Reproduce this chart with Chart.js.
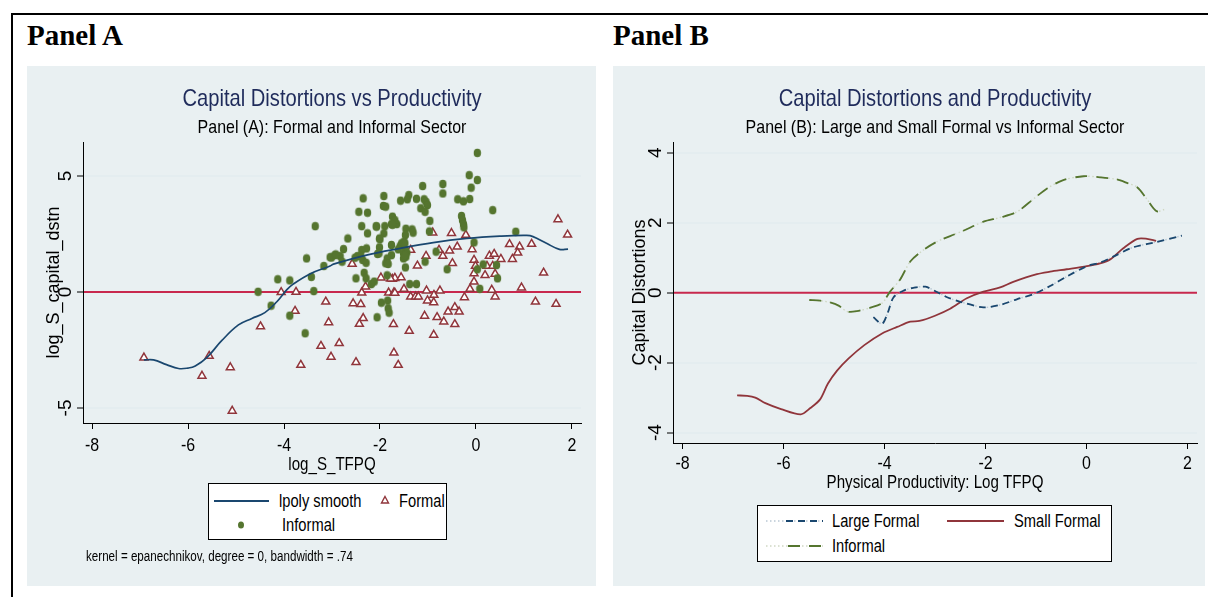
<!DOCTYPE html>
<html><head><meta charset="utf-8">
<script src="https://cdn.jsdelivr.net/npm/chart.js@4.4.1/dist/chart.umd.min.js"></script>
<style>
html,body{margin:0;padding:0;background:#fff;}
body{width:1208px;height:597px;position:relative;overflow:hidden;font-family:'Liberation Sans',Arial,sans-serif;}
.frame{position:absolute;left:11px;top:13px;width:1197px;height:584px;border-top:2px solid #000;border-left:2px solid #000;}
.plabel{position:absolute;top:20px;font-family:'Liberation Serif','Times New Roman',serif;font-weight:bold;font-size:29px;line-height:30px;color:#000;}
.bg{position:absolute;top:66px;height:520px;background:#e9f0f2;}
.bg canvas{position:absolute;left:0;top:0;}
.title{position:absolute;top:85px;width:600px;text-align:center;font-size:24px;line-height:26px;color:#1f2b5b;white-space:nowrap;transform:scaleX(0.84);transform-origin:50% 50%;}
.sub{position:absolute;top:116px;width:600px;text-align:center;font-size:19px;line-height:22px;color:#000;white-space:nowrap;transform:scaleX(0.84);transform-origin:50% 50%;}
.legend{position:absolute;background:#fff;border:1px solid #000;box-sizing:border-box;}
.legend svg{position:absolute;left:0;top:0;}
.lt{position:absolute;font-size:17.5px;line-height:20px;color:#000;white-space:nowrap;transform:scaleX(0.84);transform-origin:0 50%;}
.note{position:absolute;left:86px;top:548px;font-size:14px;line-height:16px;color:#000;white-space:nowrap;transform:scaleX(0.83);transform-origin:0 50%;}
</style>
</head>
<body>
<div class="frame"></div>
<div class="plabel" style="left:27px;">Panel A</div>
<div class="plabel" style="left:613px;">Panel B</div>

<div class="bg" style="left:27px;width:569px;"><canvas id="cA" width="569" height="520"></canvas></div>
<div class="bg" style="left:613px;width:592px;"><canvas id="cB" width="592" height="520"></canvas></div>

<div class="title" style="left:32px;">Capital Distortions vs Productivity</div>
<div class="sub" style="left:32px;">Panel (A): Formal and Informal Sector</div>
<div class="title" style="left:635px;">Capital Distortions and Productivity</div>
<div class="sub" style="left:635px;">Panel (B): Large and Small Formal vs Informal Sector</div>

<div class="legend" style="left:208px;top:483px;width:239px;height:57px;">
  <svg width="239" height="57">
    <line x1="5" y1="17" x2="60" y2="17" stroke="#1a476f" stroke-width="2"/>
    <polygon points="176,12.5 179.5,19 172.5,19" fill="#fff" stroke="#90353b" stroke-width="1.4"/>
    <ellipse cx="32" cy="41" rx="3" ry="3.6" fill="#55752f"/>
  </svg>
  <div class="lt" style="left:70px;top:7px;">lpoly smooth</div>
  <div class="lt" style="left:190px;top:7px;">Formal</div>
  <div class="lt" style="left:73px;top:31px;">Informal</div>
</div>
<div class="note">kernel = epanechnikov, degree = 0, bandwidth = .74</div>

<div class="legend" style="left:757px;top:505px;width:355px;height:57px;">
  <svg width="355" height="57">
    <line x1="8" y1="15" x2="65" y2="15" stroke="#b9c7d4" stroke-width="1.5" stroke-dasharray="1.5 2.5"/>
    <line x1="28" y1="15" x2="65" y2="15" stroke="#1a476f" stroke-width="2" stroke-dasharray="7 5"/>
    <line x1="189" y1="15" x2="246" y2="15" stroke="#90353b" stroke-width="2"/>
    <line x1="8" y1="40" x2="65" y2="40" stroke="#cfd8c3" stroke-width="1.5" stroke-dasharray="1.5 2.5"/>
    <line x1="30" y1="40" x2="65" y2="40" stroke="#55752f" stroke-width="2" stroke-dasharray="12 9"/>
  </svg>
  <div class="lt" style="left:74px;top:5px;">Large Formal</div>
  <div class="lt" style="left:256px;top:5px;">Small Formal</div>
  <div class="lt" style="left:74px;top:30px;">Informal</div>
</div>

<script>
// ---------- tick labels ----------
const xTicks = [-8, -6, -4, -2, 0, 2];
const yTicksA = [-5, 0, 5];
const yTicksB = [-4, -2, 0, 2, 4];

// ---------- Panel A data ----------
const lpolyX = [-6.92,-6.72,-6.45,-6.20,-6.00,-5.85,-5.61,-5.30,-4.95,-4.67,-4.40,-4.15,-3.94,-3.81,-3.44,-3.04,-2.97,-2.28,-1.58,-0.89,-0.19,0.50,1.06,1.19,1.47,1.74,1.92];
const lpolyY = [-2.93,-2.93,-3.13,-3.30,-3.28,-3.19,-2.83,-2.10,-1.42,-1.14,-0.89,-0.42,0.10,0.34,0.80,1.12,1.20,1.59,1.88,2.13,2.31,2.41,2.44,2.39,2.10,1.84,1.85];

const informalX = [0.03,-0.14,0.03,-0.10,-1.11,-0.69,-0.69,-1.92,-1.40,-1.43,-1.24,-1.57,-1.08,-1.04,-1.01,-1.15,-1.06,-1.93,-1.88,-2.35,-2.44,-2.26,-0.38,-0.26,-0.13,0.35,-0.30,-0.28,-0.26,-0.25,-0.96,-1.74,-1.76,-1.65,-1.69,-1.90,-2.07,-2.38,-3.35,-1.46,-1.33,-1.31,-2.26,-0.97,-1.92,-2.01,-1.47,-2.67,-1.76,-1.58,-1.55,-1.50,-2.01,-2.28,-2.38,-2.76,-1.62,-1.47,-1.51,-1.44,-2.05,-1.76,-1.85,-1.46,-1.51,-1.88,-1.47,-1.06,-0.83,0.83,-0.04,-2.83,-2.94,-3.01,-2.79,-2.52,-2.47,-2.36,-2.29,-2.40,-3.53,-3.17,-2.50,-2.33,-2.29,-2.18,-2.12,-1.85,-1.38,-1.24,-0.60,0.15,0.43,0.03,0.45,0.08,-1.97,-1.84,-1.83,-1.81,-2.06,-3.43,-3.38,-3.56,-4.54,-4.27,-4.13,-3.88,-3.88,-3.04,-2.92,-2.00,-2.08,-1.74,-1.83,-2.02,-1.48,-1.48];
const informalY = [6.00,5.04,4.83,4.50,4.57,4.66,4.25,4.14,4.18,4.00,4.02,3.94,4.00,3.89,3.75,3.61,3.46,3.71,3.68,4.04,3.46,3.42,4.00,3.91,4.01,3.53,3.28,3.10,2.93,2.79,3.07,3.25,2.93,2.93,3.10,2.84,2.82,2.84,2.84,2.73,2.70,2.56,2.53,2.61,2.53,2.31,2.46,2.31,2.03,1.98,2.10,2.17,1.93,1.88,1.81,1.85,1.84,1.81,1.67,1.70,1.64,1.59,1.45,1.52,1.45,1.24,1.06,1.31,1.74,2.60,2.14,1.55,1.59,1.49,1.31,1.48,1.55,1.38,1.26,1.55,1.45,1.12,0.59,0.83,0.59,0.34,0.45,0.72,0.34,0.34,0.98,1.19,1.16,0.98,0.59,0.14,-0.46,-0.37,-0.70,-0.89,-1.09,0.65,0.04,-1.78,0.01,-0.59,0.55,0.50,-1.02,1.50,1.62,2.28,2.84,2.90,1.21,1.67,2.10,1.59];

const formalX = [-6.92,-5.56,-5.71,-5.12,-5.08,-4.49,-4.06,-3.75,-3.77,-3.65,-3.23,-3.13,-3.07,-3.02,-2.85,-2.50,-2.56,-2.40,-2.35,-2.43,-2.38,-2.30,-1.82,-1.71,-1.72,-1.71,-1.62,-1.98,-1.74,-1.69,-1.78,-1.56,-1.50,-1.36,-1.26,-1.20,-1.03,-0.875,-0.75,-1.01,-0.88,-1.07,-0.81,-0.67,-0.58,-0.44,-0.35,-0.44,-1.39,-0.88,-1.69,-0.24,-0.125,-0.04,0.33,0.40,0.95,1.24,1.67,1.71,1.91,1.16,0.70,0.91,0.87,0.76,1.41,-0.90,-0.51,-0.21,-0.39,-0.55,-0.77,-0.69,-1.04,-1.22,-1.36,-0.08,-0.04,-0.49,0.28,0.38,0.23,0.35,0.19,0.40,0.52,-0.04,-0.01,-2.58];
const formalY = [-2.83,-2.76,-3.62,-3.25,-5.13,-1.49,-0.01,0.00,-0.82,-3.15,-2.33,-0.42,-1.31,-2.80,-2.21,-3.03,-0.49,-0.53,-1.13,-1.38,-0.03,0.23,-0.03,-0.03,-1.39,-2.62,-3.15,0.62,0.56,0.60,0.57,0.63,0.13,-0.20,-0.20,-0.20,0.06,-0.13,0.06,-0.37,-0.45,-1.03,-1.09,-1.28,-0.85,-0.66,-0.85,-1.39,-1.68,-1.85,-0.04,-0.23,0.13,0.44,0.09,-0.20,0.19,-0.42,-0.52,3.13,2.47,2.07,2.06,1.95,1.69,1.42,0.83,2.56,2.54,2.46,1.95,1.78,1.81,1.55,1.55,1.13,1.81,1.84,1.38,1.24,1.56,1.64,1.12,1.12,0.72,0.78,1.42,0.80,1.12,1.21];

// ---------- Panel B data ----------
const smallX = [-6.92,-6.72,-6.56,-6.36,-6.05,-5.66,-5.47,-5.28,-5.12,-4.94,-4.71,-4.40,-4.04,-3.75,-3.49,-3.31,-3.00,-2.70,-2.37,-2.04,-1.71,-1.45,-0.98,-0.72,-0.39,0.01,0.27,0.47,0.73,1.01,1.20,1.38];
const smallY = [-2.94,-2.95,-3.00,-3.16,-3.33,-3.48,-3.30,-3.06,-2.60,-2.23,-1.88,-1.50,-1.16,-0.98,-0.83,-0.81,-0.66,-0.46,-0.16,0.03,0.15,0.31,0.53,0.60,0.67,0.76,0.84,0.95,1.27,1.54,1.54,1.48];
const largeX = [-4.22,-4.05,-3.94,-3.82,-3.62,-3.43,-3.19,-2.96,-2.76,-2.50,-2.04,-1.71,-1.38,-1.05,-0.72,-0.39,0.01,0.27,0.53,0.93,1.33,1.89];
const largeY = [-0.70,-0.89,-0.59,-0.13,0.06,0.14,0.17,0.02,-0.13,-0.26,-0.42,-0.35,-0.19,-0.04,0.19,0.46,0.76,0.86,1.03,1.30,1.43,1.63];
const infX = [-5.49,-5.27,-5.08,-4.91,-4.74,-4.55,-4.28,-4.05,-3.89,-3.69,-3.49,-3.23,-2.96,-2.70,-2.44,-2.04,-1.71,-1.38,-1.05,-0.78,-0.46,-0.06,0.27,0.60,0.80,1.01,1.20,1.39,1.54];
const infY = [-0.21,-0.23,-0.28,-0.37,-0.54,-0.53,-0.43,-0.30,0.03,0.38,0.89,1.22,1.46,1.62,1.77,2.03,2.15,2.31,2.68,2.98,3.22,3.33,3.30,3.24,3.14,3.01,2.67,2.33,2.38];

// ---------- helpers ----------
const FR = "'Liberation Sans',Arial,sans-serif";
const SQ = 0.84;
const GRID = '#e4edf0';
function pairs(xs, ys){ return xs.map((x,i)=>({x:x, y:ys[i]})); }

// elliptical marker (Stata dots look slightly taller than wide)
const dot = document.createElement('canvas');
dot.width = 9; dot.height = 10;
(function(){ const c = dot.getContext('2d'); c.fillStyle='#55752f'; c.beginPath(); c.ellipse(4.5,5,3.7,4.3,0,0,Math.PI*2); c.fill(); })();

const zeroLine = {
  id:'zeroLine',
  beforeDatasetsDraw(chart){
    const {ctx, chartArea:a, scales:{y}} = chart;
    const py = y.getPixelForValue(0);
    ctx.save(); ctx.strokeStyle='#c8284e'; ctx.lineWidth=2;
    ctx.beginPath(); ctx.moveTo(a.left+1, py); ctx.lineTo(a.right, py); ctx.stroke(); ctx.restore();
  }
};
const axisText = {
  id:'axisText',
  afterDraw(chart, args, opts){
    const {ctx, chartArea:a, scales:{x, y}} = chart;
    ctx.save(); ctx.fillStyle='#000'; ctx.textAlign='center'; ctx.textBaseline='middle';
    // rotated y tick labels
    ctx.font='19px '+FR;
    y.ticks.forEach(t=>{
      const py = y.getPixelForValue(t.value);
      ctx.save(); ctx.translate(y.right-17, py); ctx.rotate(-Math.PI/2);
      ctx.fillText(String(t.value), 0, 0); ctx.restore();
    });
    // x tick labels (condensed like the reference)
    x.ticks.forEach(t=>{
      const px = x.getPixelForValue(t.value);
      ctx.save(); ctx.translate(px, x.top + opts.lab); ctx.scale(SQ,1);
      ctx.fillText(String(t.value), 0, 0); ctx.restore();
    });
    // x title
    ctx.font='18px '+FR;
    ctx.save(); ctx.translate((a.left+a.right)/2, x.top + opts.tit); ctx.scale(SQ,1);
    ctx.fillText(opts.xtitle, 0, 0); ctx.restore();
    ctx.restore();
  }
};
function xScale(h){
  return {type:'linear', min:-8.19, max:2.19,
    afterBuildTicks:s=>{ s.ticks = xTicks.map(v=>({value:v})); },
    afterFit:s=>{ s.height = h; },
    ticks:{display:false},
    grid:{drawOnChartArea:false, tickLength:6, tickColor:'#000', tickWidth:1},
    border:{color:'#000', width:1}};
}
function yScale(title, min, max, ticks, w){
  return {type:'linear', min:min, max:max,
    afterBuildTicks:s=>{ s.ticks = ticks.map(v=>({value:v})); },
    afterFit:s=>{ s.width = w; },
    ticks:{display:false},
    grid:{color:GRID, lineWidth:2, tickLength:6, tickColor:'#000', tickWidth:1},
    border:{color:'#000', width:1},
    title:{display:true, text:title, font:{family:FR,size:18}, color:'#000', padding:{top:4,bottom:4}}};
}

new Chart(document.getElementById('cA'), {
  type:'scatter',
  data:{datasets:[
    {label:'lpoly smooth', data:pairs(lpolyX,lpolyY), showLine:true, borderColor:'#1a476f', borderWidth:1.7, pointRadius:0, tension:0.4, order:0},
    {label:'Informal', data:pairs(informalX,informalY), pointStyle:dot, pointRadius:4, order:1},
    {label:'Formal', data:pairs(formalX,formalY), pointStyle:'triangle', pointRadius:4.6, backgroundColor:'#fff', borderColor:'#90353b', borderWidth:1.5, order:2}
  ]},
  options:{responsive:false, animation:false, events:[],
    layout:{padding:{left:12, top:76, right:15, bottom:106}},
    plugins:{legend:{display:false}, tooltip:{enabled:false}, axisText:{lab:23, tit:42, xtitle:'log_S_TFPQ'}},
    scales:{x:xScale(57), y:yScale('log_S_capital_dstn',-5.65,6.47,yTicksA,44)}
  },
  plugins:[zeroLine, axisText]
});

new Chart(document.getElementById('cB'), {
  type:'scatter',
  data:{datasets:[
    {label:'Large Formal', data:pairs(largeX,largeY), showLine:true, borderColor:'#1a476f', borderWidth:1.8, borderDash:[7,5], pointRadius:0, tension:0.3, order:0},
    {label:'Large Formal dots', data:pairs(largeX,largeY), showLine:true, borderColor:'#b9c7d4', borderWidth:1.4, borderDash:[1.5,2.5], pointRadius:0, tension:0.3, order:3},
    {label:'Small Formal', data:pairs(smallX,smallY), showLine:true, borderColor:'#90353b', borderWidth:1.8, pointRadius:0, tension:0.3, order:1},
    {label:'Informal', data:pairs(infX,infY), showLine:true, borderColor:'#55752f', borderWidth:1.8, borderDash:[12,9], pointRadius:0, tension:0.3, order:2},
    {label:'Informal dots', data:pairs(infX,infY), showLine:true, borderColor:'#cfd8c3', borderWidth:1.4, borderDash:[1.5,2.5], pointRadius:0, tension:0.3, order:4}
  ]},
  options:{responsive:false, animation:false, events:[],
    layout:{padding:{left:12, top:76, right:8, bottom:88}},
    plugins:{legend:{display:false}, tooltip:{enabled:false}, axisText:{lab:21, tit:40, xtitle:'Physical Productivity: Log TFPQ'}},
    scales:{x:xScale(55), y:yScale('Capital Distortions',-4.30,4.31,yTicksB,48)}
  },
  plugins:[zeroLine, axisText]
});
</script>
</body></html>
